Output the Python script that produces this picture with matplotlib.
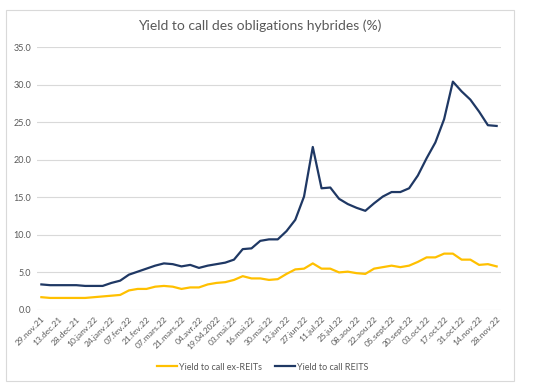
import matplotlib.pyplot as plt
from matplotlib.patches import Rectangle
from matplotlib.ticker import FormatStrFormatter

plt.rcParams['font.family'] = ['Lato', 'DejaVu Sans']

# weekly values
reits = [3.4, 3.3, 3.3, 3.3, 3.3, 3.2, 3.2, 3.2, 3.6, 3.9,
         4.7, 5.1, 5.5, 5.9, 6.2, 6.1, 5.8, 6.0, 5.6, 5.9,
         6.1, 6.3, 6.7, 8.1, 8.2, 9.2, 9.4, 9.4, 10.5, 12.0,
         15.1, 21.7, 16.2, 16.3, 14.8, 14.1, 13.6, 13.2, 14.2, 15.1,
         15.7, 15.7, 16.2, 17.9, 20.2, 22.3, 25.4, 30.4, 29.1, 28.0,
         26.4, 24.6, 24.5]
ex_reits = [1.7, 1.6, 1.6, 1.6, 1.6, 1.6, 1.7, 1.8, 1.9, 2.0,
            2.6, 2.8, 2.8, 3.1, 3.2, 3.1, 2.8, 3.0, 3.0, 3.4,
            3.6, 3.7, 4.0, 4.5, 4.2, 4.2, 4.0, 4.1, 4.8, 5.4,
            5.5, 6.2, 5.5, 5.5, 5.0, 5.1, 4.9, 4.8, 5.5, 5.7,
            5.9, 5.7, 5.9, 6.4, 7.0, 7.0, 7.5, 7.5, 6.7, 6.7,
            6.0, 6.1, 5.8]
tick_labels = ['29.nov.21', '13.dec.21', '28.dec.21', '10.janv.22', '24.janv.22',
               '07.fev.22', '21.fev.22', '07.mars.22', '21.mars.22', '04.avr.22',
               '19.04.2022', '03.mai.22', '16.mai.22', '30.mai.22', '13.jun.22',
               '27.jun.22', '11.jul.22', '25.jul.22', '08.aou.22', '22.aou.22',
               '05.sept.22', '20.sept.22', '03.oct.22', '17.oct.22', '31.oct.22',
               '14.nov.22', '28.nov.22']

txt = '#595959'
fig = plt.figure(figsize=(5.33, 3.86), dpi=100)
fig.patches.append(Rectangle((0.0113, 0.013), 0.953, 0.961, transform=fig.transFigure,
                             fill=False, edgecolor='#D9D9D9', lw=0.8))
ax = fig.add_axes([0.0694, 0.197, 0.8706, 0.681])

x = list(range(len(reits)))
ax.plot(x, ex_reits, color='#FFC000', lw=1.6, label='Yield to call ex-REITs')
ax.plot(x, reits, color='#1F3864', lw=1.6, label='Yield to call REITS')

ax.set_xlim(-0.5, len(reits) - 0.5)
ax.set_ylim(0, 35)
ax.set_yticks(range(0, 36, 5))
ax.yaxis.set_major_formatter(FormatStrFormatter('%.1f'))
ax.set_xticks(range(0, len(reits), 2))
ax.set_xticklabels(tick_labels, rotation=45, ha='right', va='top',
                   rotation_mode='anchor', fontsize=6.1)
ax.tick_params(axis='y', labelsize=6.5)
ax.tick_params(length=0, colors=txt, pad=4)
ax.grid(axis='y', color='#D9D9D9', lw=0.8)
ax.set_axisbelow(True)
for s in ax.spines.values():
    s.set_visible(False)

fig.text(0.488, 0.933, 'Yield to call des obligations hybrides (%)', ha='center',
         va='center', fontsize=10, color=txt)
fig.legend(loc='center', bbox_to_anchor=(0.493, 0.049), ncol=2, frameon=False,
           fontsize=6.5, labelcolor=txt, handlelength=2.2, handletextpad=0.2,
           columnspacing=1.5)

fig.savefig('out.png', dpi=100, facecolor='white')
